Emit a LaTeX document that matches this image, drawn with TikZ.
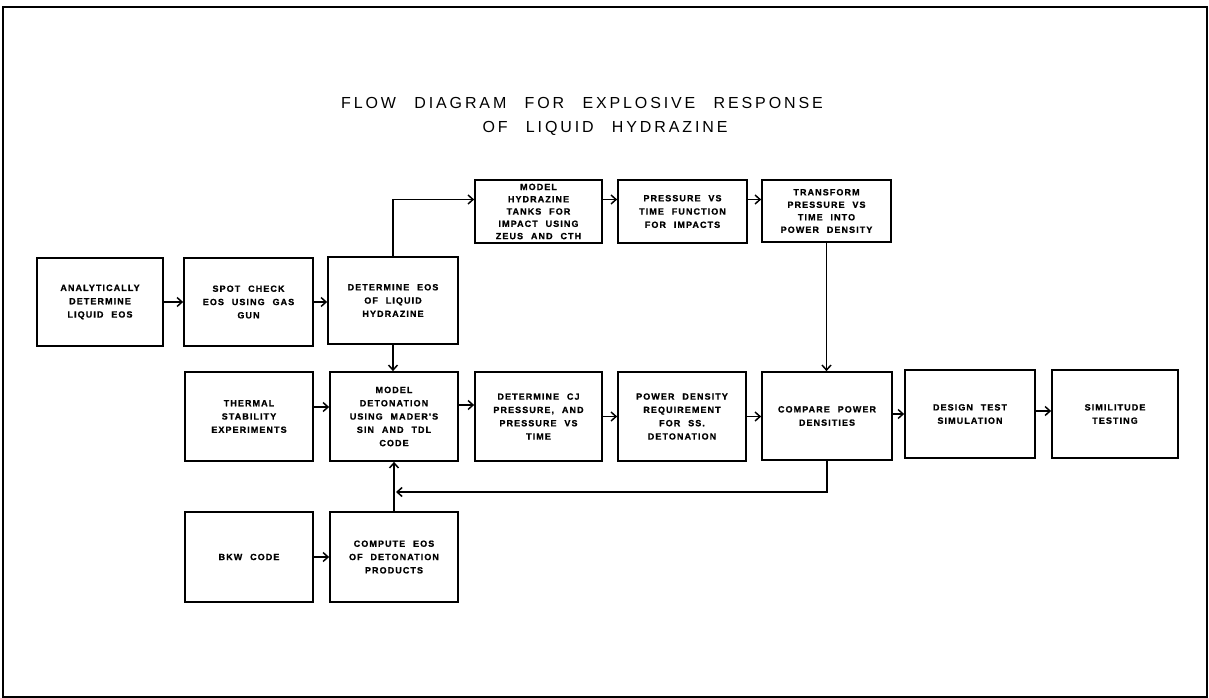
\documentclass[tikz,border=0pt]{standalone}
\usepackage{fontspec}
\usetikzlibrary{arrows.meta,calc}
\newfontfamily\boxfont[LetterSpace=12,WordSpace=2.2,BoldFeatures={FakeBold=1}]{Liberation Sans}
\newfontfamily\titlefont[LetterSpace=18,WordSpace=2.5]{Liberation Sans}
\begin{document}
\begin{tikzpicture}[x=1pt,y=-1pt,
  box/.style={draw, line width=1.7pt, align=center, inner sep=0pt,
    font=\boxfont\bfseries\fontsize{9}{13.3}\selectfont},
  sz/.style 2 args={minimum width=#1pt, minimum height=#2pt},
  arr/.style={line width=1.4pt, -{Straight Barb[length=5pt,width=9pt,line width=1.5pt]}},
  ttl/.style={font=\titlefont\fontsize{16}{20}\selectfont, inner sep=0pt}]
\useasboundingbox (0,0) rectangle (1209,698);
\draw[line width=2.5pt] (3,7) rectangle (1207,697);
% title
\node[ttl] (t1) at (582,103) {FLOW DIAGRAM FOR EXPLOSIVE RESPONSE};
\node[ttl] (t2) at (605,128) {OF LIQUID HYDRAZINE};
% row 1
\node[box, sz={126}{88}] (A) at (100,302) {ANALYTICALLY\\DETERMINE\\LIQUID EOS};
\node[box, sz={129}{88}] (B) at (248.5,302) {SPOT CHECK\\EOS USING GAS\\GUN};
\node[box, sz={130}{87}] (C) at (393,300.5) {DETERMINE EOS\\OF LIQUID\\HYDRAZINE};
% top row
\node[box, sz={127}{63}, font=\boxfont\bfseries\fontsize{9}{12.3}\selectfont] (D) at (538.5,211.5) {MODEL\\HYDRAZINE\\TANKS FOR\\IMPACT USING\\ZEUS AND CTH};
\node[box, sz={129}{63}] (E) at (682.5,211.5) {PRESSURE VS\\TIME FUNCTION\\FOR IMPACTS};
\node[box, sz={129}{62}, font=\boxfont\bfseries\fontsize{9}{12.5}\selectfont] (F) at (826.5,211) {TRANSFORM\\PRESSURE VS\\TIME INTO\\POWER DENSITY};
% row 2
\node[box, sz={128}{89}] (G) at (249,416.5) {THERMAL\\STABILITY\\EXPERIMENTS};
\node[box, sz={128}{89}] (H) at (394,416.5) {MODEL\\DETONATION\\USING MADER'S\\SIN AND TDL\\CODE};
\node[box, sz={127}{89}] (I) at (538.5,416.5) {DETERMINE CJ\\PRESSURE, AND\\PRESSURE VS\\TIME};
\node[box, sz={128}{89}] (J) at (682,416.5) {POWER DENSITY\\REQUIREMENT\\FOR SS.\\DETONATION};
\node[box, sz={130}{88}] (K) at (827,416) {COMPARE POWER\\DENSITIES};
\node[box, sz={130}{88}] (L) at (970,414) {DESIGN TEST\\SIMULATION};
\node[box, sz={126}{88}] (M) at (1115,414) {SIMILITUDE\\TESTING};
% row 3
\node[box, sz={128}{90}] (N) at (249,557) {BKW CODE};
\node[box, sz={128}{90}] (O) at (394,557) {COMPUTE EOS\\OF DETONATION\\PRODUCTS};
% connectors
\draw[arr] (A.east) -- (A.east -| B.west);
\draw[arr] (B.east) -- (B.east -| C.west);
\draw[arr] (C.north) |- ([yshift=12pt]D.west);
\draw[arr] ([yshift=12pt]D.east) -- ([yshift=12pt]E.west);
\draw[arr] ([yshift=12pt]E.east) -- ([yshift=12pt]E.east -| F.west);
\draw[arr] (F.south) -- (F.south |- K.north);
\draw[arr] (C.south) -- (C.south |- H.north);
\draw[arr] ([yshift=9.5pt]G.east) -- ([yshift=9.5pt]H.west);
\draw[arr] ([yshift=11.5pt]H.east) -- ([yshift=11.5pt]I.west);
\draw[arr] (I.east) -- (J.west);
\draw[arr] (J.east) -- (J.east -| K.west);
\draw[arr] (K.east |- L.west) -- (L.west);
\draw[arr] ([yshift=3pt]L.east) -- ([yshift=3pt]M.west);
\draw[arr] (N.east) -- (O.west);
\draw[arr] (O.north) -- (O.north |- H.south);
\coordinate (fb) at (396,492);
\draw[arr] (K.south) |- (fb);
\end{tikzpicture}
\end{document}
